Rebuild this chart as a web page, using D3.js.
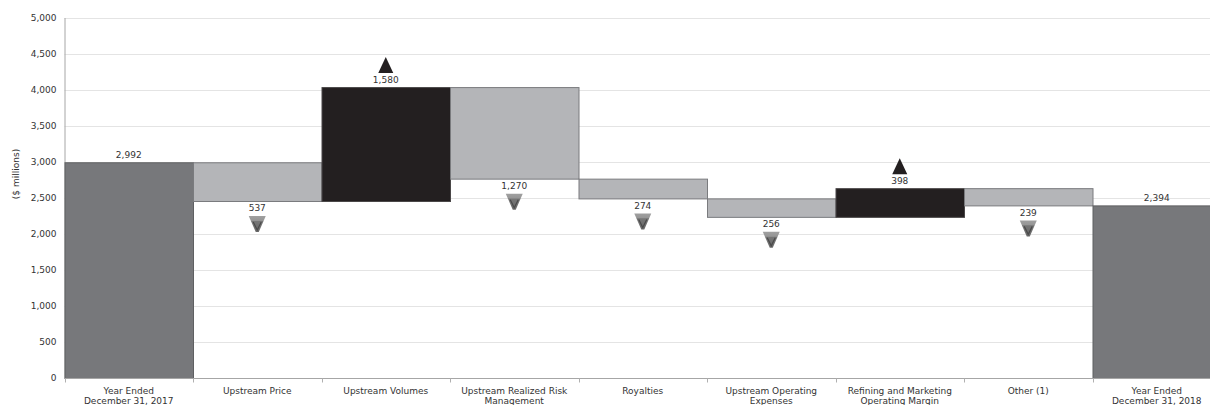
<!DOCTYPE html>
<html>
<head>
<meta charset="utf-8">
<script src="https://cdn.jsdelivr.net/npm/d3@7"></script>
<style>
  html, body { margin: 0; padding: 0; background: #fff; }
  svg { display: block; font-family: "DejaVu Sans", Verdana, sans-serif; }
</style>
</head>
<body>
<svg id="chart" width="1210" height="405"></svg>
<script>
// Earnings bridge, $ millions
const categories = [
  "Year Ended\nDecember 31, 2017",
  "Upstream Price",
  "Upstream Volumes",
  "Upstream Realized Risk\nManagement",
  "Royalties",
  "Upstream Operating\nExpenses",
  "Refining and Marketing\nOperating Margin",
  "Other (1)",
  "Year Ended\nDecember 31, 2018"
];
// signed change for each step; totals are stated as absolute values
const changes = [2992, -537, 1580, -1270, -274, -256, 398, -239, 2394];
const kinds = ["total", "down", "up", "down", "down", "down", "up", "down", "total"];
const yTicks = [0, 500, 1000, 1500, 2000, 2500, 3000, 3500, 4000, 4500, 5000];
const yTitle = "($ millions)";

const fmt = d3.format(",");
const FONT = "9px";
const TEXT = "#333";

// running totals -> bar extents
let running = 0;
const bars = categories.map((c, i) => {
  let lo, hi;
  if (kinds[i] === "total") {
    lo = 0; hi = changes[i]; running = changes[i];
  } else {
    const start = running;
    running = start + changes[i];
    lo = Math.min(start, running); hi = Math.max(start, running);
  }
  return { cat: c, kind: kinds[i], value: Math.abs(changes[i]), lo, hi };
});

const svg = d3.select("#chart");
const plotLeft = 64.5, plotTop = 17.5, plotBottom = 378;
const x = d3.scaleBand().domain(categories).range([plotLeft, 1221]).padding(0);
const y = d3.scaleLinear().domain([0, 5000]).range([plotBottom, plotTop]);

// gridlines
svg.append("g").selectAll("line").data(yTicks.filter(d => d > 0)).join("line")
  .attr("x1", plotLeft).attr("x2", 1210)
  .attr("y1", d => Math.round(y(d)) + 0.5).attr("y2", d => Math.round(y(d)) + 0.5)
  .attr("stroke", "#e4e4e4").attr("stroke-width", 1);

// y axis
const yAxis = svg.append("g").attr("transform", `translate(${plotLeft},0)`)
  .call(d3.axisLeft(y).tickValues(yTicks).tickFormat(fmt).tickSize(0).tickPadding(8));
yAxis.select(".domain").attr("stroke", "#a6a6a6");
yAxis.selectAll("text").attr("font-size", FONT).attr("fill", TEXT)
  .attr("font-family", "DejaVu Sans, Verdana, sans-serif");

svg.append("text")
  .attr("transform", "translate(16,174) rotate(-90)")
  .attr("text-anchor", "middle").attr("dominant-baseline", "middle")
  .attr("font-size", FONT).attr("fill", TEXT)
  .text(yTitle);

// bars
const fills = { total: "#77787b", down: "#b4b5b8", up: "#231f20" };
const strokes = { total: "#5f6062", down: "#7a7b7e", up: "#4a4748" };
svg.append("g").selectAll("rect").data(bars).join("rect")
  .attr("x", d => x(d.cat) + 0.5)
  .attr("width", x.bandwidth())
  .attr("y", d => y(d.hi) + 0.5)
  .attr("height", d => y(d.lo) - y(d.hi))
  .attr("fill", d => fills[d.kind])
  .attr("stroke", d => strokes[d.kind]).attr("stroke-width", 1);

// x axis
const xAxisG = svg.append("g").attr("transform", `translate(0,${plotBottom + 0.5})`);
xAxisG.append("line").attr("x1", plotLeft).attr("x2", 1210).attr("stroke", "#a6a6a6");
const bounds = categories.map(c => x(c)).concat([x.range()[1]]);
xAxisG.selectAll("line.tick").data(bounds).join("line").attr("class", "tick")
  .attr("x1", d => Math.round(d) + 0.5).attr("x2", d => Math.round(d) + 0.5)
  .attr("y1", 0).attr("y2", 4).attr("stroke", "#b0b0b0");

const xl = svg.append("g").selectAll("text").data(categories).join("text")
  .attr("x", d => x(d) + x.bandwidth() / 2)
  .attr("y", 393.5)
  .attr("text-anchor", "middle")
  .attr("font-size", FONT).attr("fill", TEXT);
xl.each(function (d) {
  const lines = d.split("\n");
  d3.select(this).selectAll("tspan").data(lines).join("tspan")
    .attr("x", x(d) + x.bandwidth() / 2)
    .attr("dy", (l, i) => i === 0 ? 0 : 10.6)
    .text(l => l);
});

// value labels and direction markers
const defs = svg.append("defs");
const grad = defs.append("linearGradient").attr("id", "downGrad")
  .attr("x1", 0).attr("y1", 0).attr("x2", 0).attr("y2", 1);
grad.append("stop").attr("offset", "0%").attr("stop-color", "#a0a0a0");
grad.append("stop").attr("offset", "28%").attr("stop-color", "#969696");
grad.append("stop").attr("offset", "33%").attr("stop-color", "#767676");
grad.append("stop").attr("offset", "100%").attr("stop-color", "#686868");

const lab = svg.append("g").attr("font-size", FONT).attr("fill", TEXT)
  .attr("text-anchor", "middle");

bars.forEach(b => {
  const cx = x(b.cat) + x.bandwidth() / 2;
  if (b.kind === "total") {
    lab.append("text").attr("x", cx).attr("y", y(b.hi) - 7)
      .attr("dominant-baseline", "middle").text(fmt(b.value));
  } else if (b.kind === "up") {
    const t = y(b.hi);
    lab.append("text").attr("x", cx).attr("y", t - 7)
      .attr("dominant-baseline", "middle").text(fmt(b.value));
    svg.append("path")
      .attr("d", `M${cx - 7.5},${t - 14} L${cx + 7.5},${t - 14} L${cx},${t - 30} Z`)
      .attr("fill", "#231f20");
  } else {
    const bt = y(b.lo);
    lab.append("text").attr("x", cx).attr("y", bt + 8)
      .attr("dominant-baseline", "middle").text(fmt(b.value));
    const ty = bt + 15;
    svg.append("path")
      .attr("d", `M${cx - 8.5},${ty} L${cx + 8.5},${ty} L${cx + 1.5},${ty + 16} L${cx - 1.5},${ty + 16} Z`)
      .attr("fill", "url(#downGrad)");
    svg.append("path")
      .attr("d", `M${cx - 4},${ty + 6} L${cx},${ty + 14} L${cx + 4},${ty + 6}`)
      .attr("fill", "none").attr("stroke", "#4a4a4a").attr("stroke-width", 1.2);
  }
});
</script>
</body>
</html>
